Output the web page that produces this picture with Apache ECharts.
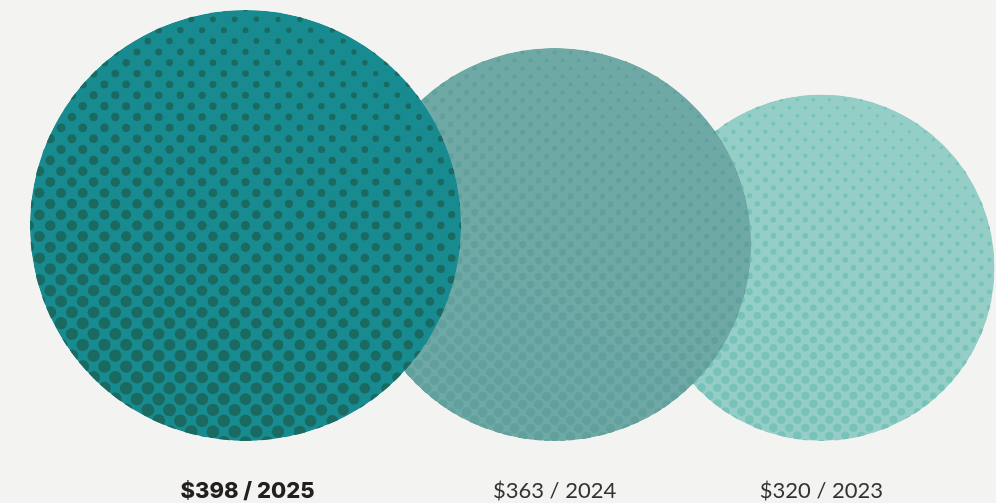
<!DOCTYPE html>
<html><head><meta charset="utf-8">
<script src="https://cdn.jsdelivr.net/npm/echarts@6/dist/echarts.min.js"></script>
<style>html,body{margin:0;padding:0;background:#f3f3f1}#c{width:996px;height:503px}</style>
</head><body><div id="c"></div>
<script>
const years = ['2025', '2024', '2023'];
const values = [398, 363, 320];

const baseColors = ['#178b8f', '#6ea9a6', '#95cec6'];
const dotColors = ['#1a6a62', '#61a09c', '#78c3b9'];
const dotSpacing = [21.7, 16, 16];
const dotMin = [5, 3.5, 3];
const dotMax = [13, 10, 9];
const OVERLAP = 103;

const chart = echarts.init(document.getElementById('c'));

function layout(api) {
  const base = api.coord([0, 0]);
  const out = [];
  for (let i = 0; i < values.length; i++) {
    const r = api.size([0, values[i]])[1] / 2;
    const cx = i === 0 ? base[0] + r : out[i - 1].cx + out[i - 1].r + r - OVERLAP;
    out.push({ cx: cx, cy: base[1] - r, r: r });
  }
  return out;
}

function renderItem(params, api) {
  const i = api.value(0);
  const L = layout(api)[i];
  const s = dotSpacing[i];
  const dots = [];
  const dx = -0.45, dy = 0.89;
  const rows = Math.ceil(L.r / (s / 2)) + 1;
  for (let j = -rows; j <= rows; j++) {
    const y = L.cy + j * s / 2;
    const off = (Math.abs(j) % 2) ? s / 2 : 0;
    const cols = Math.ceil(L.r / s) + 1;
    for (let k = -cols; k <= cols; k++) {
      const x = L.cx + k * s + off;
      const ux = (x - L.cx) / L.r, uy = (y - L.cy) / L.r;
      const t = Math.min(1, Math.max(0, (ux * dx + uy * dy + 1) / 2));
      const d = dotMin[i] + (dotMax[i] - dotMin[i]) * t;
      if (Math.hypot(x - L.cx, y - L.cy) > L.r + d / 2) continue;
      dots.push({ type: 'circle', shape: { cx: x, cy: y, r: d / 2 }, style: { fill: dotColors[i] } });
    }
  }
  const label = '$' + values[i] + ' / ' + years[i];
  const bold = i === 0;
  return {
    type: 'group',
    children: [
      {
        type: 'group',
        clipPath: { type: 'circle', shape: { cx: L.cx, cy: L.cy, r: L.r } },
        children: [{ type: 'circle', shape: { cx: L.cx, cy: L.cy, r: L.r }, style: { fill: baseColors[i] } }].concat(dots)
      },
      {
        type: 'text',
        x: L.cx + (bold ? 2 : 0), y: 491,
        style: {
          text: label, textAlign: 'center', textVerticalAlign: 'middle',
          fontFamily: bold ? 'Inter' : 'Lato', fontSize: 22, fontWeight: bold ? 800 : 400,
          fill: bold ? '#231f20' : '#333333'
        }
      }
    ]
  };
}

const order = values.map((v, i) => i).reverse();

chart.setOption({
  backgroundColor: '#f3f3f1',
  animation: false,
  grid: { left: 30, right: 0, top: 10, bottom: 62 },
  xAxis: { type: 'value', min: 0, max: 1000, show: false },
  yAxis: { type: 'value', min: 0, max: Math.max.apply(null, values), show: false },
  series: [{
    type: 'custom',
    clip: false,
    renderItem: renderItem,
    data: order.map(i => [i, values[i]])
  }]
});
</script>
</body></html>
